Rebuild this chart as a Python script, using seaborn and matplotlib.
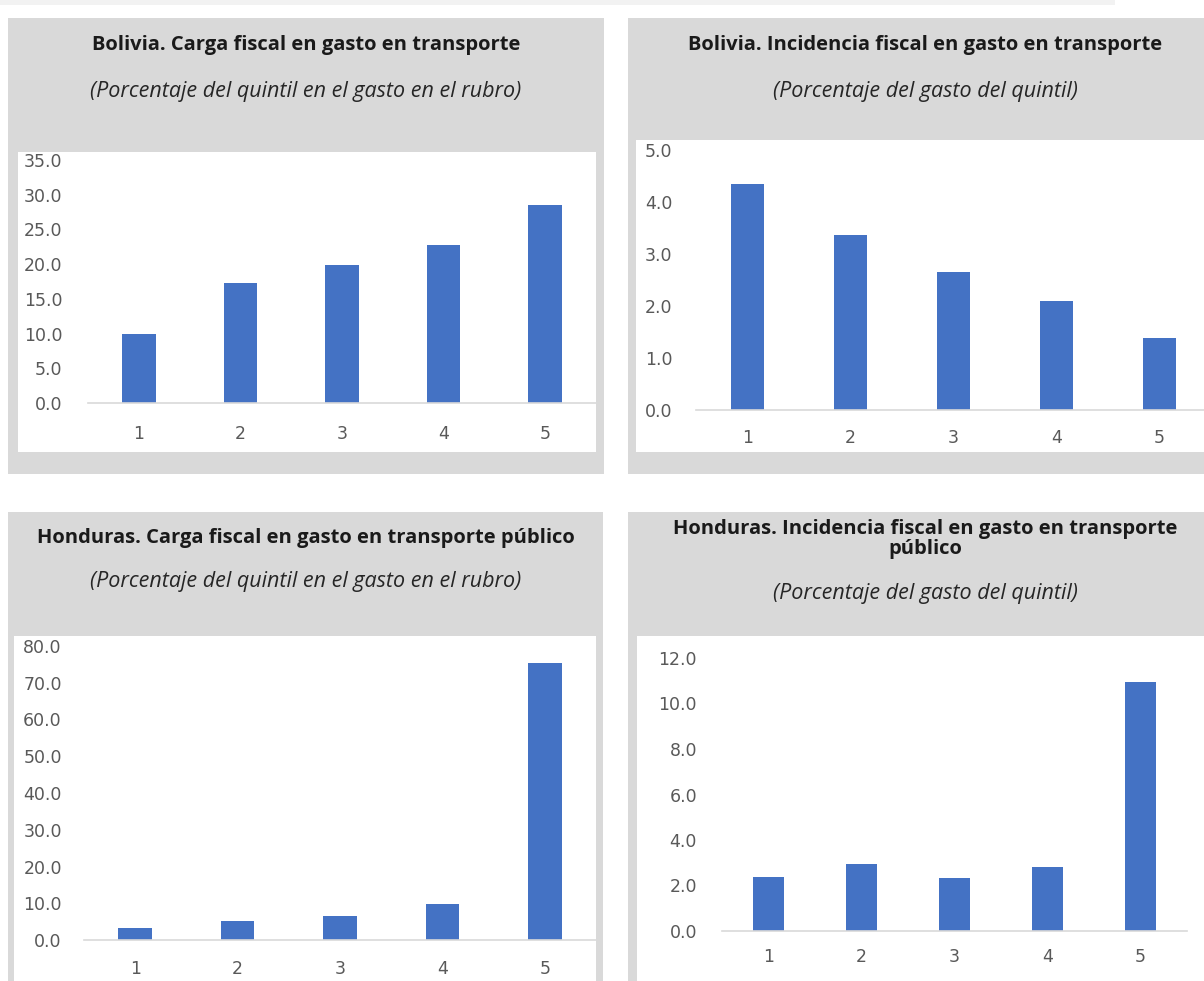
import matplotlib
matplotlib.use("Agg")
import matplotlib.pyplot as plt
from matplotlib.patches import Rectangle
import pandas as pd
import seaborn as sns

# Quintiles and values for each chart
quintiles = ["1", "2", "3", "4", "5"]
bolivia_carga = [10.0, 17.3, 19.9, 22.8, 28.5]
bolivia_incidencia = [4.35, 3.37, 2.65, 2.10, 1.38]
honduras_carga = [3.3, 5.2, 6.5, 9.8, 75.4]
honduras_incidencia = [2.37, 2.95, 2.33, 2.81, 10.95]

titles = [
    "Bolivia. Carga fiscal en gasto en transporte",
    "Bolivia. Incidencia fiscal en gasto en transporte",
    "Honduras. Carga fiscal en gasto en transporte público",
    "Honduras. Incidencia fiscal en gasto en transporte\npúblico",
]
subtitles = [
    "(Porcentaje del quintil en el gasto en el rubro)",
    "(Porcentaje del gasto del quintil)",
    "(Porcentaje del quintil en el gasto en el rubro)",
    "(Porcentaje del gasto del quintil)",
]
y_ticks = [
    [0, 5, 10, 15, 20, 25, 30, 35],
    [0, 1, 2, 3, 4, 5],
    [0, 10, 20, 30, 40, 50, 60, 70, 80],
    [0, 2, 4, 6, 8, 10, 12],
]

BAR = "#4472C4"
PANEL = "#D9D9D9"
TICK = "#595959"
FONT = "Open Sans"
TICK_FONT = "DejaVu Sans"

W, H = 1204, 981
sns.set_theme(style="white")
plt.rcParams["font.family"] = [FONT, "DejaVu Sans"]
fig = plt.figure(figsize=(W / 100, H / 100), dpi=100)
fig.patch.set_facecolor("white")


def rect_px(x0, y0, x1, y1, color):
    fig.add_artist(Rectangle((x0 / W, 1 - y1 / H), (x1 - x0) / W, (y1 - y0) / H,
                             transform=fig.transFigure, facecolor=color,
                             edgecolor="none", zorder=0))


def text_px(x, y, s, **kw):
    fig.text(x / W, 1 - y / H, s, ha="center", va="center", **kw)


# thin strip along the top edge
rect_px(0, 0, 1115, 5, "#F2F2F2")

# panel layout: gray frame, white plot area, axes box (left, top, right, zero-line), title/subtitle y, padding
panels = [
    dict(frame=(8, 18, 604, 474), white=(18, 152, 596, 452), axes=(88, 160, 596, 403),
         title_y=45, sub_y=92, cx=306, ypad=18.5, xpad=15.5),
    dict(frame=(628, 18, 1204, 474), white=(636, 140, 1204, 452), axes=(696, 150, 1211, 410),
         title_y=45, sub_y=92, cx=925, ypad=17, xpad=14),
    dict(frame=(8, 512, 603, 985), white=(14, 636, 596, 985), axes=(84, 646, 596, 940),
         title_y=538, sub_y=581, cx=306, ypad=16, xpad=14.5),
    dict(frame=(628, 512, 1204, 985), white=(637, 636, 1204, 985), axes=(722, 658, 1187, 931),
         title_y=539, sub_y=593, cx=925, ypad=18, xpad=12.5),
]
values = [bolivia_carga, bolivia_incidencia, honduras_carga, honduras_incidencia]

for p, vals, title, sub, ticks in zip(panels, values, titles, subtitles, y_ticks):
    rect_px(*p["frame"], PANEL)
    rect_px(*p["white"], "white")
    text_px(p["cx"], p["title_y"], title, fontsize=14.5, fontweight="bold",
            color="#1A1A1A", linespacing=1.05)
    text_px(p["cx"], p["sub_y"], sub, fontsize=15.5, fontstyle="italic", color="#262626")

    x0, y0, x1, y1 = p["axes"]
    ax = fig.add_axes([x0 / W, 1 - y1 / H, (x1 - x0) / W, (y1 - y0) / H])
    ax.set_facecolor("none")
    df = pd.DataFrame({"quintil": quintiles, "valor": vals})
    sns.barplot(data=df, x="quintil", y="valor", order=quintiles, color=BAR,
                width=0.33, saturation=1, ax=ax, edgecolor="none")
    ax.set_xlim(-0.5, 4.5)
    ax.set_ylim(ticks[0], ticks[-1])
    ax.set_yticks(ticks)
    ax.set_yticklabels([f"{t:.1f}" for t in ticks])
    ax.set_xlabel("")
    ax.set_ylabel("")
    for s in ["top", "right", "left"]:
        ax.spines[s].set_visible(False)
    ax.spines["bottom"].set_color("#D9D9D9")
    ax.spines["bottom"].set_linewidth(1.2)
    ax.tick_params(axis="y", length=0, pad=p["ypad"], labelsize=12.5, labelcolor=TICK)
    ax.tick_params(axis="x", length=0, pad=p["xpad"], labelsize=12.5, labelcolor=TICK)
    for lbl in ax.get_xticklabels() + ax.get_yticklabels():
        lbl.set_fontfamily(TICK_FONT)
    ax.grid(False)

fig.savefig("out.png", dpi=100, facecolor="white")
